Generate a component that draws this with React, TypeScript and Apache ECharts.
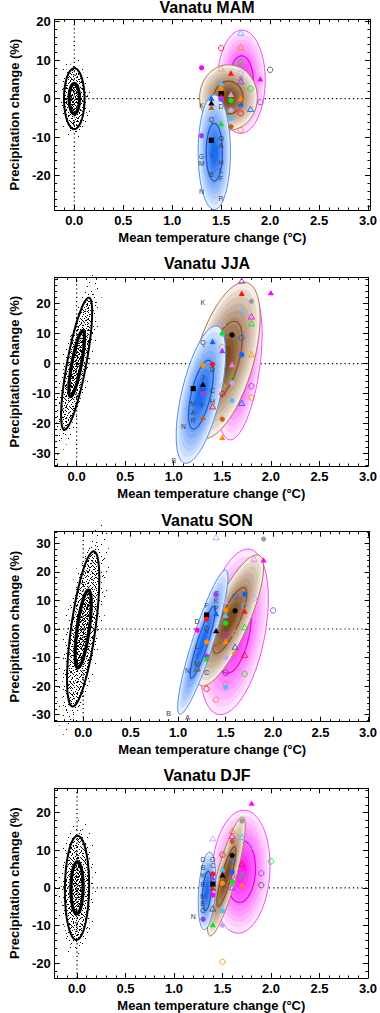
import React, { useEffect, useRef } from "react";
import * as echarts from "echarts";

// ---------- data ----------
const panelTitles = ["Vanatu MAM", "Vanatu JJA", "Vanatu SON", "Vanatu DJF"];
const xRanges: number[][] = [[-0.2, 3.02], [-0.226, 3.0], [-0.3, 3.017], [-0.23, 3.0]];
const yRanges: number[][] = [[-28.9, 20.6], [-34.1, 28.8], [-32.5, 34.1], [-23.9, 26.4]];
const xTickStep = 0.5;
const yTickStep = 10;
const xAxisTitle = "Mean temperature change (°C)";
const yAxisTitle = "Precipitation change (%)";

// natural-variability ellipse: [cx, cy, halfX, halfY, correlation]
const noiseEllipses: number[][] = [
  [0, 0, 0.105, 7.9, 0.0],
  [0, 0, 0.16, 22.0, 0.78],
  [0, 0, 0.17, 27.2, 0.65],
  [0, 0, 0.125, 13.8, 0.05],
];

// model ellipses: [cx, cy, halfX, halfY, correlation, palette]
const mamEllipses: any[] = [
  [1.705, 4.4, 0.245, 13.4, 0.03, "magenta"],
  [1.575, 0.3, 0.295, 8.5, 0.0, "brown"],
  [1.43, -13.9, 0.165, 14.9, 0.0, "blue"],
];
const jjaEllipses: any[] = [
  [1.68, -0.7, 0.23, 24.7, 0.43, "magenta"],
  [1.52, 1.1, 0.37, 26.1, 0.55, "brown"],
  [1.28, -10.3, 0.255, 22.9, 0.6, "blue"],
];
const sonEllipses: any[] = [
  [1.59, -1.0, 0.36, 29.0, 0.4, "magenta"],
  [1.545, 3.0, 0.355, 23.0, 0.8, "brown"],
  [1.26, -4.6, 0.265, 25.3, 0.9, "blue"],
];
const djfEllipses: any[] = [
  [1.69, 4.3, 0.3, 16.3, 0.1, "magenta"],
  [1.54, 3.0, 0.195, 15.75, 0.85, "brown"],
  [1.34, -0.8, 0.09, 10.3, 0.3, "blue"],
];

// model markers: [dT, dP, shape, colour]
const mamMarkers: any[] = [
  [1.3, 8.0, "fc", "magenta"], [1.3, -9.6, "fc", "purple"],
  [1.4, 0.0, "ft", "blue"], [1.4, -1.2, "ft", "black"], [1.4, -2.4, "ft", "brown"], [1.4, -10.8, "sq", "black"],
  [1.5, 13.1, "oc", "red"], [1.5, 7.7, "ot", "tan"], [1.5, 3.9, "ft", "sky"], [1.5, 2.6, "fc", "orange"],
  [1.5, 1.3, "sq", "black"], [1.5, 0.4, "ft", "red"], [1.5, -0.1, "sq", "purple"], [1.5, -6.6, "ft", "green"],
  [1.6, 6.5, "ft", "red"], [1.6, 1.0, "ft", "lav"], [1.6, -0.5, "fc", "green"], [1.6, -3.0, "fc", "lav"],
  [1.6, -5.1, "fc", "sky"], [1.6, -7.3, "fc", "brown"],
  [1.7, 17.0, "ot", "sky"], [1.7, 13.3, "ot", "orange"], [1.7, 9.5, "ot", "green"], [1.7, 6.6, "oc", "lav"],
  [1.7, 5.2, "fc", "gray"], [1.7, 4.4, "ot", "purple"], [1.7, 0.0, "ft", "orange"], [1.7, -1.8, "fc", "blue"],
  [1.7, -2.8, "oc", "salmon"], [1.7, -3.8, "oc", "red"], [1.7, -8.1, "oc", "orange"],
  [1.8, 2.6, "oc", "green"], [1.8, -2.8, "ot", "blue"],
  [1.9, 5.0, "ft", "magenta"], [1.9, -0.9, "oc", "purple"], [2.0, 7.5, "oc", "dgray"],
];
const jjaMarkers: any[] = [
  [1.7, 27.5, "ot", "purple"], [1.7, 23.3, "ft", "red"], [2.0, 23.5, "ft", "magenta"], [1.8, 20.8, "fc", "gray"],
  [1.7, 17.4, "ot", "sky"], [1.8, 15.6, "ot", "magenta"], [1.8, 13.3, "ot", "green"], [1.5, 13.3, "ot", "lav"],
  [1.5, 9.9, "fc", "sky"], [1.5, 10.3, "ft", "green"], [1.6, 9.6, "fc", "black"], [1.7, 8.6, "oc", "blue"],
  [1.4, 7.2, "ft", "blue"], [1.5, 5.5, "oc", "tan"], [1.5, 4.2, "ft", "purple"], [1.7, 3.0, "fc", "blue"],
  [1.8, 3.0, "ot", "orange"], [1.3, -0.6, "fc", "orange"], [1.4, -0.2, "fc", "red"], [1.6, -0.5, "ft", "violet"],
  [1.6, -5.0, "oc", "green"], [1.6, -6.4, "fc", "lav"], [1.5, -7.5, "oc", "tan"], [1.8, -7.5, "oc", "purple"],
  [1.3, -7.0, "ft", "black"], [1.2, -8.3, "sq", "black"], [1.3, -10.0, "fc", "purple"], [1.5, -10.1, "oc", "red"],
  [1.8, -11.3, "oc", "orange"], [1.6, -12.3, "fc", "sky"], [1.7, -13.2, "ot", "blue"], [1.4, -14.4, "ot", "red"],
  [1.3, -18.1, "ft", "brown"], [1.5, -18.5, "fc", "brown"], [1.5, -24.7, "ft", "orange"],
];
const sonMarkers: any[] = [
  [1.4, 32.0, "ot", "lav"], [1.9, 31.5, "fc", "gray"], [1.8, 24.5, "ot", "violet"], [1.9, 24.0, "ft", "magenta"],
  [1.4, 12.0, "fc", "purple"], [1.7, 12.2, "fc", "blue"], [1.6, 11.5, "oc", "blue"], [1.8, 10.8, "oc", "lav"],
  [1.5, 9.5, "ft", "lav"], [1.7, 8.1, "oc", "sky"], [1.5, 6.6, "fc", "orange"], [1.6, 6.4, "fc", "black"],
  [1.7, 6.1, "ft", "red"], [1.3, 4.9, "sq", "black"], [1.4, 5.2, "ft", "blue"], [1.5, 4.6, "ft", "sky"],
  [1.3, 3.4, "fc", "red"], [1.5, 2.0, "fc", "green"], [1.2, -0.4, "fc", "magenta"], [1.7, 0.5, "ot", "green"],
  [1.4, -0.8, "ft", "black"], [1.5, -2.2, "oc", "magenta"], [1.6, -1.5, "ot", "tan"], [1.3, -4.6, "fc", "orange"],
  [1.4, -5.6, "ft", "brown"], [1.5, -4.5, "ft", "orange"], [1.6, -6.4, "ot", "blue"], [1.6, -8.0, "ot", "orange"],
  [1.7, -9.2, "ot", "red"], [1.3, -9.5, "fc", "purple"], [1.5, -10.0, "fc", "lav"], [1.3, -10.7, "ft", "green"],
  [1.2, -14.0, "ot", "dgray"], [1.5, -15.3, "oc", "dpurple"], [1.7, -15.8, "oc", "green"], [1.5, -19.4, "oc", "salmon"],
  [1.5, -20.4, "fc", "sky"], [1.3, -21.0, "oc", "red"], [1.4, -24.8, "oc", "salmon"], [2.0, 6.5, "oc", "purple"],
];
const djfMarkers: any[] = [
  [1.8, 22.3, "ft", "magenta"], [1.7, 17.7, "fc", "gray"], [1.6, 15.0, "ot", "orange"], [1.7, 13.4, "ot", "sky"],
  [1.6, 13.6, "ot", "magenta"], [1.6, 12.3, "fc", "brown"], [1.4, 13.0, "ot", "lav"], [1.8, 11.2, "oc", "lav"],
  [1.5, 8.8, "oc", "red"], [1.6, 8.6, "fc", "black"], [1.6, 7.0, "oc", "blue"], [1.7, 6.2, "ot", "red"],
  [1.5, 4.8, "ft", "sky"], [1.6, 4.2, "fc", "blue"], [1.4, 3.7, "fc", "red"], [1.5, 3.3, "ft", "black"],
  [1.7, 3.2, "ot", "green"], [1.6, 3.0, "oc", "magenta"], [1.4, 2.5, "ft", "purple"], [1.6, 1.6, "fc", "green"],
  [1.5, 1.2, "fc", "orange"], [1.4, 1.0, "sq", "black"], [1.7, 0.7, "ft", "orange"], [1.4, -0.2, "ft", "red"],
  [1.6, 0.0, "ot", "purple"], [1.4, -1.9, "fc", "magenta"], [1.9, 3.9, "oc", "purple"], [1.9, 0.7, "oc", "dgray"],
  [2.0, 7.0, "oc", "green"], [1.4, -5.6, "ot", "dgray"], [1.5, -6.1, "fc", "sky"], [1.3, -8.3, "fc", "purple"],
  [1.4, -9.9, "ft", "green"], [1.5, -9.9, "fc", "lav"], [1.5, -19.6, "oc", "orange"],
];

// model letters: [dT, dP, letter]
const mamLetters: any[] = [
  [1.3, -1.7, "K"], [1.3, -14.9, "G"], [1.3, -16.8, "M"], [1.3, -24.1, "N"],
  [1.4, -5.4, "Q"], [1.4, -14.8, "I"], [1.4, -19.8, "B"],
  [1.5, -2.1, "D"], [1.5, -10.3, "O"], [1.5, -12.2, "A"], [1.5, -16.7, "H"], [1.5, -18.6, "L"], [1.5, -20.6, "F"], [1.5, -26.0, "R"],
];
const jjaLetters: any[] = [
  [1.3, 20.3, "K"], [1.3, 7.1, "Q"], [1.4, -1.8, "D"], [1.3, -4.5, "J"], [1.3, -8.2, "G"], [1.4, -9.0, "C"],
  [1.4, -12.6, "H"], [1.2, -13.2, "M"], [1.3, -13.8, "F"], [1.2, -16.2, "A"], [1.2, -18.8, "R"], [1.1, -21.0, "N"], [1.0, -32.3, "B"],
];
const sonLetters: any[] = [
  [1.4, 12.4, "G"], [1.4, 10.0, "K"], [1.3, 8.2, "F"], [1.4, 7.3, "P"], [1.2, 2.6, "D"], [1.3, 0.0, "Q"],
  [1.2, -6.3, "L"], [1.2, -9.6, "I"], [1.2, -12.1, "M"], [1.1, -14.4, "N"], [1.3, -15.2, "C"],
  [0.9, -29.5, "B"], [1.1, -31.0, "A"],
];
const djfLetters: any[] = [
  [1.3, 7.4, "D"], [1.3, 5.5, "B"], [1.4, 7.6, "O"], [1.4, 5.8, "C"], [1.3, 3.2, "K"], [1.3, 0.9, "R"],
  [1.3, -2.3, "M"], [1.3, -4.1, "E"], [1.3, -5.9, "G"], [1.2, -7.5, "N"],
];

const panelEllipses = [mamEllipses, jjaEllipses, sonEllipses, djfEllipses];
const panelMarkers = [mamMarkers, jjaMarkers, sonMarkers, djfMarkers];
const panelLetters = [mamLetters, jjaLetters, sonLetters, djfLetters];

// ---------- styles / layout ----------
const FONT = '"Liberation Sans", Arial, Helvetica, sans-serif';
const gridTops = [19.3, 277.3, 531.7, 788.3];
const gridHeights = [190.7, 188.7, 190, 190.7];
const titleYs = [7.3, 263.3, 520, 775];

const markerColors: Record<string, string> = {
  red: "#ff1414", orange: "#ff8c00", green: "#14e014", blue: "#0a64ff", sky: "#55bbff",
  purple: "#9a3cf0", lav: "#c8a2f0", violet: "#e080f0", gray: "#9a9a9a", black: "#000000",
  brown: "#c0601c", magenta: "#ff00ff", salmon: "#ff7a6a", tan: "#dca070", dgray: "#505050", dpurple: "#7a2c8a",
};

const palettes: Record<string, any> = {
  magenta: { light: [255, 232, 255], dark: [255, 30, 255], edge: "#ff40ff", inner: "#e000e0" },
  brown: { light: [245, 237, 229], dark: [125, 74, 30], edge: "#a87850", inner: "#8b4a1a" },
  blue: { light: [228, 238, 255], dark: [28, 108, 242], edge: "#4a8cf0", inner: "#1756c8" },
};

// stipple textures for the natural-variability cloud (style only)
function dotTile(size: number, dots: number[][]) {
  const rects = dots.map(([x, y]) => `<rect x="${x}" y="${y}" width="1" height="1" fill="#000"/>`).join("");
  const svg = `<svg xmlns="http://www.w3.org/2000/svg" width="${size}" height="${size}">${rects}</svg>`;
  return {
    image: "data:image/svg+xml;charset=utf-8," + encodeURIComponent(svg),
    repeat: "repeat",
    imageWidth: size,
    imageHeight: size,
  };
}
const farTile = dotTile(19, [[2, 3], [11, 1], [16, 9], [6, 12], [13, 16], [0, 17], [9, 7]]);
const haloTile = dotTile(16, [[1, 2], [6, 0], [11, 3], [14, 9], [3, 8], [8, 6], [12, 13], [5, 12], [0, 14], [9, 10], [15, 1], [2, 5], [7, 15], [13, 6]]);
const outerTile = dotTile(11, [[0, 0], [4, 0], [8, 1], [2, 2], [6, 2], [10, 3], [0, 4], [4, 4], [8, 5], [2, 6], [6, 6], [10, 7], [1, 8], [5, 8], [9, 9], [3, 10], [7, 10], [0, 10], [10, 0], [3, 5], [7, 3], [5, 1]]);
const innerTile = dotTile(9, [[0, 0], [3, 0], [6, 1], [1, 2], [4, 2], [7, 3], [2, 4], [5, 4], [8, 5], [0, 5], [3, 6], [6, 6], [1, 7], [4, 8], [7, 8], [8, 0], [2, 1], [5, 6], [0, 8], [6, 3], [3, 3], [8, 7]]);

function ellipsePts(api: any, cx: number, cy: number, sx: number, sy: number, r: number, k: number) {
  const pts: number[][] = [];
  const q = Math.sqrt(Math.max(0, 1 - r * r));
  const n = 80;
  for (let i = 0; i < n; i++) {
    const t = (2 * Math.PI * i) / n;
    const x = cx + k * sx * Math.cos(t);
    const y = cy + k * sy * (r * Math.cos(t) + q * Math.sin(t));
    pts.push(api.coord([x, y]));
  }
  return pts;
}

function mix(a: number[], b: number[], t: number) {
  const c = a.map((v, i) => Math.round(v + (b[i] - v) * t));
  return `rgb(${c[0]},${c[1]},${c[2]})`;
}

const fmtX = (v: number) =>
  Math.abs(v / xTickStep - Math.round(v / xTickStep)) < 1e-6 ? (Math.abs(v) < 1e-9 ? 0 : v).toFixed(1) : "";
const fmtY = (v: number) =>
  Math.abs(v / yTickStep - Math.round(v / yTickStep)) < 1e-6 ? String(Math.round(v)) : "";

function buildOption() {
  const grid: any[] = [];
  const xAxis: any[] = [];
  const yAxis: any[] = [];
  const series: any[] = [];
  const graphic: any[] = [];
  const tickLine = { color: "#000", width: 1 };
  const nameStyle = { fontSize: 13, fontWeight: "bold", color: "#000", fontFamily: FONT };

  panelTitles.forEach((title, i) => {
    grid.push({ left: 43, right: 9, top: gridTops[i], height: gridHeights[i], show: false });
    const xc = {
      gridIndex: i, type: "value", min: xRanges[i][0], max: xRanges[i][1],
      minInterval: xTickStep, maxInterval: xTickStep, splitLine: { show: false },
      axisLine: { show: true, onZero: false, lineStyle: tickLine },
      axisTick: { show: true, inside: true, length: 5, lineStyle: tickLine },
      minorTick: { show: true, splitNumber: 5, length: 2.5, lineStyle: tickLine },
    };
    xAxis.push({
      ...xc, position: "bottom",
      axisLabel: { show: true, margin: 4, color: "#000", fontSize: 13, fontWeight: "bold", fontFamily: FONT, formatter: fmtX },
      name: xAxisTitle, nameLocation: "middle", nameGap: 21, nameTextStyle: nameStyle,
    });
    xAxis.push({ ...xc, position: "top", axisLabel: { show: false } });
    const yc = {
      gridIndex: i, type: "value", min: yRanges[i][0], max: yRanges[i][1],
      minInterval: yTickStep, maxInterval: yTickStep, splitLine: { show: false },
      axisLine: { show: true, onZero: false, lineStyle: tickLine },
      axisTick: { show: true, inside: true, length: 5, lineStyle: tickLine },
      minorTick: { show: true, splitNumber: 5, length: 2.5, lineStyle: tickLine },
    };
    yAxis.push({
      ...yc, position: "left",
      axisLabel: { show: true, margin: 4, color: "#000", fontSize: 13, fontWeight: "bold", fontFamily: FONT, formatter: fmtY },
      name: yAxisTitle, nameLocation: "middle", nameGap: 30, nameTextStyle: nameStyle,
    });
    yAxis.push({ ...yc, position: "right", axisLabel: { show: false } });

    graphic.push({
      type: "text", x: 207, y: titleYs[i],
      style: {
        text: title, font: `bold 16px ${FONT}`, fill: "#000",
        align: "center", verticalAlign: "middle", textAlign: "center", textVerticalAlign: "middle",
      },
    });

    const axisRef = { xAxisIndex: 2 * i, yAxisIndex: 2 * i };

    // dotted zero lines
    series.push({
      type: "custom", ...axisRef, silent: true, z: 1, data: [[0, 0]],
      renderItem: (_p: any, api: any) => {
        const a = api.coord([xRanges[i][0], 0]);
        const b = api.coord([xRanges[i][1], 0]);
        const c = api.coord([0, yRanges[i][0]]);
        const d = api.coord([0, yRanges[i][1]]);
        const st = { stroke: "#000", lineWidth: 1.2, lineDash: [1.2, 3] };
        return {
          type: "group",
          children: [
            { type: "line", shape: { x1: a[0], y1: a[1], x2: b[0], y2: b[1] }, style: st },
            { type: "line", shape: { x1: c[0], y1: c[1], x2: d[0], y2: d[1] }, style: st },
          ],
        };
      },
    });

    // natural variability cloud
    series.push({
      type: "custom", ...axisRef, silent: true, z: 2, data: [noiseEllipses[i]],
      renderItem: (_p: any, api: any) => {
        const [cx, cy, sx, sy, r] = noiseEllipses[i];
        const far = ellipsePts(api, cx, cy, sx * 1.6, sy * 1.38, r, 1);
        const halo = ellipsePts(api, cx, cy, sx * 1.3, sy * 1.17, r, 1);
        const outer = ellipsePts(api, cx, cy, sx, sy, r, 1);
        const mid = ellipsePts(api, cx, cy, sx, sy, r, 0.75);
        const inner = ellipsePts(api, cx, cy, sx, sy, r, 0.5);
        return {
          type: "group",
          children: [
            { type: "polygon", shape: { points: far }, style: { fill: farTile } },
            { type: "polygon", shape: { points: halo }, style: { fill: haloTile } },
            { type: "polygon", shape: { points: outer }, style: { fill: outerTile } },
            { type: "polygon", shape: { points: mid }, style: { fill: haloTile } },
            { type: "polygon", shape: { points: inner }, style: { fill: innerTile } },
            { type: "polygon", shape: { points: outer }, style: { fill: "none", stroke: "#000", lineWidth: 2 } },
            { type: "polygon", shape: { points: inner }, style: { fill: "none", stroke: "#000", lineWidth: 3.2 } },
          ],
        };
      },
    });

    // model ellipses
    const ells = panelEllipses[i];
    series.push({
      type: "custom", ...axisRef, silent: true, z: 3, data: ells.map((e: any[]) => e.slice(0, 5)),
      renderItem: (p: any, api: any) => {
        const [cx, cy, sx, sy, r, pal] = ells[p.dataIndex];
        const P = palettes[pal];
        const N = 10;
        const children: any[] = [];
        for (let j = 0; j < N; j++) {
          const k = 1 - j * 0.09;
          children.push({
            type: "polygon",
            shape: { points: ellipsePts(api, cx, cy, sx, sy, r, k) },
            style: { fill: mix(P.light, P.dark, Math.pow(j / (N - 1), 0.9)) },
          });
        }
        children.push({ type: "polygon", shape: { points: ellipsePts(api, cx, cy, sx, sy, r, 1) }, style: { fill: "none", stroke: P.edge, lineWidth: 1 } });
        children.push({ type: "polygon", shape: { points: ellipsePts(api, cx, cy, sx, sy, r, 0.5) }, style: { fill: "none", stroke: P.inner, lineWidth: 1.2 } });
        return { type: "group", children };
      },
    });

    // letters
    const lets = panelLetters[i];
    series.push({
      type: "custom", ...axisRef, silent: true, z: 4, data: lets.map((l: any[]) => [l[0], l[1]]),
      renderItem: (p: any, api: any) => {
        const l = lets[p.dataIndex];
        const pt = api.coord([l[0], l[1]]);
        return {
          type: "text", x: pt[0], y: pt[1],
          style: { text: l[2], fill: "#3c3c3c", font: `7px ${FONT}`, align: "center", verticalAlign: "middle" },
        };
      },
    });

    // markers
    const mks = panelMarkers[i];
    series.push({
      type: "custom", ...axisRef, silent: true, z: 5, data: mks.map((m: any[]) => [m[0], m[1]]),
      renderItem: (p: any, api: any) => {
        const m = mks[p.dataIndex];
        const [px, py] = api.coord([m[0], m[1]]);
        const c = markerColors[m[3]];
        const tri = [[px, py - 3.3], [px - 3.1, py + 2.1], [px + 3.1, py + 2.1]];
        switch (m[2]) {
          case "fc":
            return { type: "circle", shape: { cx: px, cy: py, r: 2.6 }, style: { fill: c } };
          case "oc":
            return { type: "circle", shape: { cx: px, cy: py, r: 2.7 }, style: { fill: "none", stroke: c, lineWidth: 0.9 } };
          case "ft":
            return { type: "polygon", shape: { points: tri }, style: { fill: c } };
          case "ot":
            return { type: "polygon", shape: { points: tri }, style: { fill: "none", stroke: c, lineWidth: 0.9 } };
          default:
            return { type: "rect", shape: { x: px - 2.6, y: py - 2.6, width: 5.2, height: 5.2 }, style: { fill: c } };
        }
      },
    });
  });

  return {
    animation: false,
    backgroundColor: "#ffffff",
    textStyle: { fontFamily: FONT },
    grid, xAxis, yAxis, series, graphic,
  };
}

export default function App() {
  const ref = useRef<HTMLDivElement>(null);
  useEffect(() => {
    if (!ref.current) return;
    const chart = echarts.init(ref.current, undefined, { renderer: "svg" });
    chart.setOption(buildOption() as any);
    return () => chart.dispose();
  }, []);
  return (
    <div
      ref={ref}
      style={{ position: "absolute", left: 0, top: 0, width: 380, height: 1013, background: "#fff" }}
    />
  );
}
